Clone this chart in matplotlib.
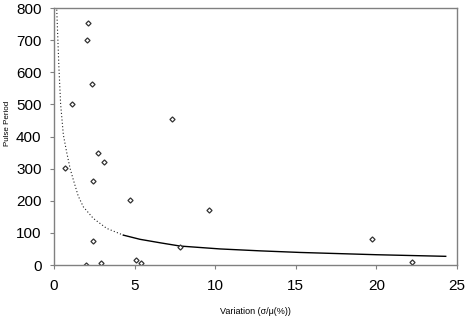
import matplotlib
matplotlib.use('Agg')
import matplotlib.pyplot as plt

plt.rcParams['font.family'] = ['Liberation Sans', 'DejaVu Sans']

# scatter data
variation = [2.13, 2.03, 2.38, 1.10, 0.68, 2.71, 3.12, 2.40, 4.69, 2.40,
             2.00, 2.92, 5.10, 5.38, 7.30, 9.62, 7.82, 19.7, 22.2]
period = [754, 699, 562, 501, 302, 348, 321, 262, 201, 74,
          1, 7, 15, 7, 454, 170, 57, 81, 8]

# trend curve (steep part drawn dotted, rest solid)
trend_x_dotted = [0.17, 0.30, 0.41, 0.58, 0.79, 1.0, 1.2, 1.5, 1.82, 2.44, 3.27, 4.3]
trend_y_dotted = [795, 620, 501, 405, 350, 300, 265, 215, 181, 145, 114, 93]
trend_x_solid = [4.3, 5.33, 6.6, 7.82, 10.3, 12.8, 15.3, 20.0, 24.3]
trend_y_solid = [93, 80, 69, 59, 50, 44, 39, 32, 27]

x_ticks = [0, 5, 10, 15, 20, 25]
y_ticks = [0, 100, 200, 300, 400, 500, 600, 700, 800]

fig = plt.figure(figsize=(4.68, 3.27), dpi=100)
ax = fig.add_axes([0.1154, 0.1896, 0.8611, 0.7859])

ax.plot(trend_x_dotted, trend_y_dotted, color='#222222', linestyle=(0, (1, 2)), linewidth=0.8)
ax.plot(trend_x_solid, trend_y_solid, color='black', linestyle='-', linewidth=1.0)
ax.plot(variation, period, linestyle='none', marker='D', markersize=2.6,
        markerfacecolor='white', markeredgecolor='#333333', markeredgewidth=0.9)

ax.set_xlim(0, 25)
ax.set_ylim(0, 800)
ax.set_xticks(x_ticks)
ax.set_yticks(y_ticks)
ax.tick_params(direction='out', length=3, color='#808080', labelsize=11)
ax.tick_params(axis='x', pad=7)
ax.tick_params(axis='y', pad=6)

for s in ax.spines.values():
    s.set_color('#808080')
    s.set_linewidth(1.0)

ax.set_xlabel('Variation (σ/μ(%))', fontsize=6.5, ha='center', va='center')
ax.xaxis.set_label_coords(0.499, -0.179)
ax.set_ylabel('Pulse Period', fontsize=5.8, ha='center', va='center')
ax.yaxis.set_label_coords(-0.116, 0.553)

fig.savefig('out.png', dpi=100)
